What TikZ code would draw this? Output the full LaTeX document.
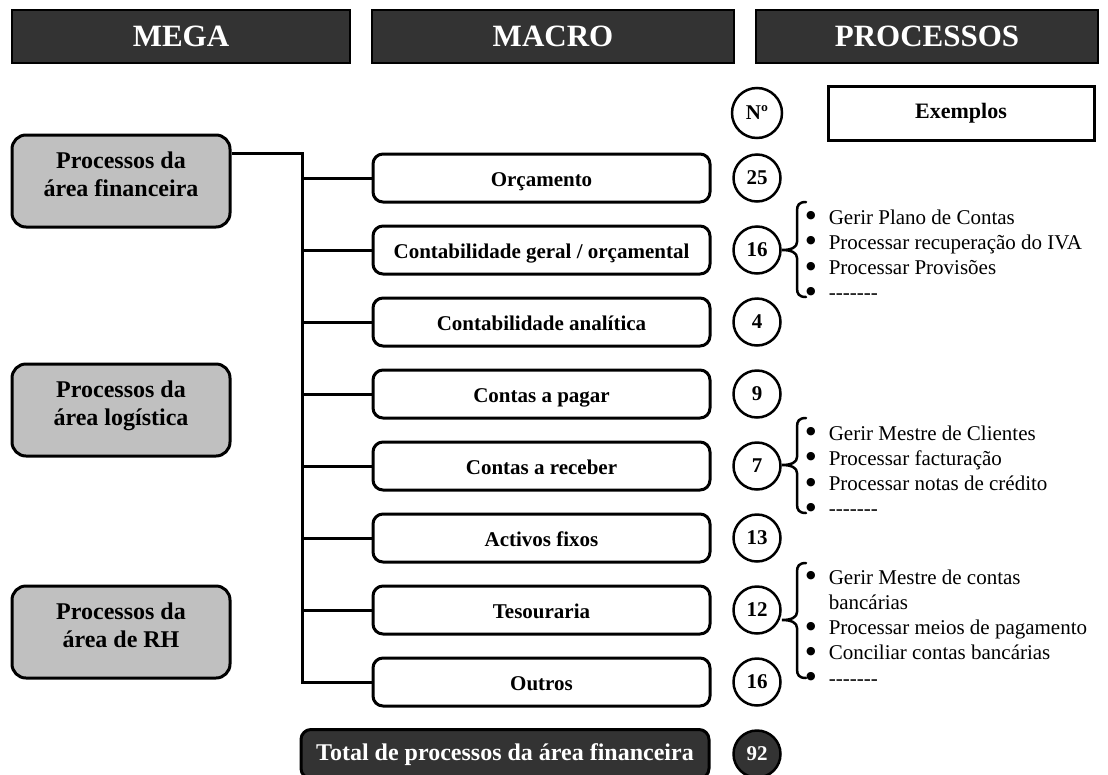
\documentclass[tikz,border=0pt]{standalone}
\usepackage{fontspec}
\setmainfont{Liberation Serif}
\newfontfamily\symfont{DejaVu Sans}
\usetikzlibrary{calc}
\definecolor{darkfill}{HTML}{333333}
\definecolor{megafill}{HTML}{C0C0C0}

% curly brace opening to the right: top y, tip y, bottom y
\newcommand\listbrace[3]{%
  \draw[bracestyle] (806,#1) .. controls (799,#1) and (797,#1+3) .. (797,#1+9)
    -- (797,#2-8) .. controls (797,#2-3) and (792,#2) .. (782,#2)
    .. controls (792,#2) and (797,#2+3) .. (797,#2+8)
    -- (797,#3-9) .. controls (797,#3-3) and (799,#3) .. (806,#3);}
% list bullet and placeholder dashes
\newcommand\bul{\raisebox{5.5pt}{\symfont\fontsize{11}{11}\selectfont ●}}
\newcommand\dashrow{-{}-{}-{}-{}-{}-{}-}

\tikzset{
  header/.style={draw=black, line width=1.5pt, fill=darkfill, text=white,
    minimum height=53pt, inner sep=0pt,
    font=\bfseries\fontsize{31}{36}\selectfont},
  megabox/.style={draw=black, line width=3pt, fill=megafill, rounded corners=14pt,
    minimum width=218pt, minimum height=92pt, inner sep=0pt,
    text height=10pt, text depth=36pt,
    font=\bfseries\fontsize{24}{28}\selectfont},
  macrobox/.style={draw=black, line width=3pt, fill=white, rounded corners=10pt,
    minimum width=337pt, minimum height=48pt, inner sep=0pt,
    text height=17.4pt, text depth=0pt,
    font=\bfseries\fontsize{21}{25}\selectfont},
  numcirc/.style={circle, draw=black, line width=2.5pt, fill=white,
    minimum size=47pt, inner sep=0pt, font=\bfseries\fontsize{21}{25}\selectfont},
  totalbox/.style={draw=black, line width=3pt, fill=darkfill, rounded corners=10pt,
    minimum width=408pt, minimum height=49pt, inner sep=0pt, text=white,
    text height=17pt, text depth=5pt,
    font=\bfseries\fontsize{24}{28}\selectfont},
  exbox/.style={draw=black, line width=3pt, fill=white,
    minimum width=266pt, minimum height=54pt, inner sep=0pt,
    font=\bfseries\fontsize{22}{26}\selectfont},
  exlist/.style={inner sep=0pt, anchor=base west, font=\fontsize{21}{25.3}\selectfont},
  link/.style={draw=black, line width=3pt},
  bracestyle/.style={draw=black, line width=2.5pt, line cap=round},
}

\begin{document}
\begin{tikzpicture}[x=1pt, y=-1pt]
\clip (0,0) rectangle (1108,774);
\fill[white] (0,0) rectangle (1108,774);

% column headers
\node[header, minimum width=338pt] (hmega) at (181,36.5) {MEGA};
\node[header, minimum width=362pt] (hmacro) at (553,36.5) {MACRO};
\node[header, minimum width=342pt] (hproc) at (927,36.5) {PROCESSOS};

% column captions
\node[numcirc, minimum size=50pt] (nhead) at (757,113) {Nº};
\node[exbox] (exhead) at (961,113) {Exemplos};

% mega processes
\node[megabox] (mega1) at (121,181)
  {\begin{tabular}[t]{@{}c@{}}Processos da\\área financeira\end{tabular}};
\node[megabox] (mega2) at (121,410)
  {\begin{tabular}[t]{@{}c@{}}Processos da\\área logística\end{tabular}};
\node[megabox] (mega3) at (121,632)
  {\begin{tabular}[t]{@{}c@{}}Processos da\\área de RH\end{tabular}};

% macro processes
\node[macrobox] (m1) at (541.5,178) {Orçamento};
\node[macrobox] (m2) at (541.5,250) {Contabilidade geral / orçamental};
\node[macrobox] (m3) at (541.5,322) {Contabilidade analítica};
\node[macrobox] (m4) at (541.5,394) {Contas a pagar};
\node[macrobox] (m5) at (541.5,466) {Contas a receber};
\node[macrobox] (m6) at (541.5,538) {Activos fixos};
\node[macrobox] (m7) at (541.5,610) {Tesouraria};
\node[macrobox] (m8) at (541.5,682) {Outros};

% process counts
\node[numcirc] (c1) at (757,178) {25};
\node[numcirc] (c2) at (757,250) {16};
\node[numcirc] (c3) at (757,322) {4};
\node[numcirc] (c4) at (757,394) {9};
\node[numcirc] (c5) at (757,466) {7};
\node[numcirc] (c6) at (757,538) {13};
\node[numcirc] (c7) at (757,610) {12};
\node[numcirc] (c8) at (757,682) {16};

% tree connectors
\coordinate (trunk) at (302,153);
\draw[link] (mega1.east |- trunk) -- (trunk) -- (trunk |- m8.west) -- (m8.west);
\foreach \m in {m1,m2,m3,m4,m5,m6,m7}
  \draw[link] (trunk |- \m.west) -- (\m.west);

% totals
\node[totalbox] (total) at (505,754) {Total de processos da área financeira};
\node[numcirc, fill=darkfill, text=white] (ctotal) at (757,754) {92};

% examples
\listbrace{202}{250}{297}
\node[exlist] (ex1) at (806,224) {\begin{tabular}[t]{@{}l@{\hspace{13pt}}l@{}}
\bul & Gerir Plano de Contas\\
\bul & Processar recuperação do IVA\\
\bul & Processar Provisões\\
\bul & \dashrow\end{tabular}};

\listbrace{418}{465}{513}
\node[exlist] (ex2) at (806,440) {\begin{tabular}[t]{@{}l@{\hspace{13pt}}l@{}}
\bul & Gerir Mestre de Clientes\\
\bul & Processar facturação\\
\bul & Processar notas de crédito\\
\bul & \dashrow\end{tabular}};

\listbrace{563}{620}{678}
\node[exlist] (ex3) at (806,584) {\begin{tabular}[t]{@{}l@{\hspace{13pt}}l@{}}
\bul & Gerir Mestre de contas\\
 & bancárias\\
\bul & Processar meios de pagamento\\
\bul & Conciliar contas bancárias\\
\bul & \dashrow\end{tabular}};
\end{tikzpicture}
\end{document}
